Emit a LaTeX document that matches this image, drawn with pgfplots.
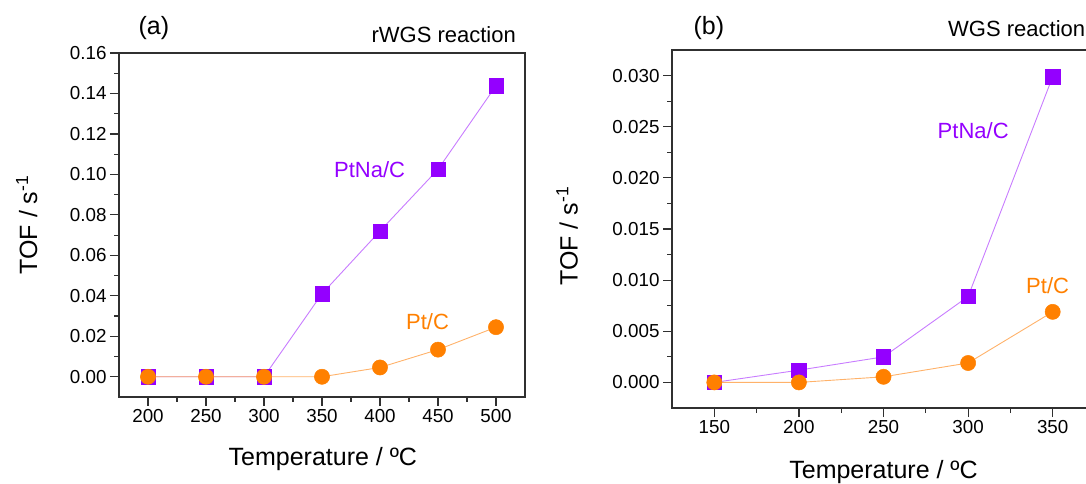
\documentclass[border=0pt]{standalone}
\usepackage{fontspec}
\setmainfont{Liberation Sans}
\usepackage{pgfplots}
\pgfplotsset{compat=1.18}

\definecolor{ptna}{HTML}{9400FF}
\definecolor{ptnaline}{HTML}{C87CFF}
\definecolor{ptc}{HTML}{FF8000}
\definecolor{ptcline}{HTML}{FFB26A}
\definecolor{axisgray}{HTML}{303030}

\newcommand{\tickfont}{\fontsize{18.8}{19}\selectfont}
\newcommand{\labfont}{\fontsize{25}{26}\selectfont}
\newcommand{\annfont}{\fontsize{22}{24}\selectfont}

\pgfplotsset{
  tofpanel/.style={
    scale only axis, anchor=south west,
    axis line style={axisgray, line width=1.4pt},
    every tick/.style={axisgray, line width=1.2pt},
    tick align=outside,
    major tick length=9pt, minor tick length=5pt,
    xtick pos=bottom, ytick pos=left,
    minor x tick num=1, minor y tick num=1,
    scaled y ticks=false,
    tick label style={font=\tickfont},
    /pgf/number format/assume math mode=true,
    label style={font=\labfont},
    xlabel={Temperature / ºC},
    ylabel={TOF / s\textsuperscript{-1}},
    clip=false,
  },
  ptnaplot/.style={draw=ptnaline, line width=0.9pt, mark=square*, mark size=7.2pt,
    mark options={fill=ptna, draw=ptna, line width=0.5pt}},
  ptcplot/.style={draw=ptcline, line width=0.9pt, mark=*, mark size=7.6pt,
    mark options={fill=ptc, draw=ptc, line width=0.5pt}},
}

\begin{document}
\begin{tikzpicture}[x=1pt,y=1pt]
\useasboundingbox (0,0) rectangle (1086,484);

% (a) rWGS
\begin{axis}[tofpanel,
  at={(119pt,87pt)}, width=406pt, height=344pt,
  xmin=175, xmax=525, ymin=-0.01, ymax=0.16,
  xtick={200,250,300,350,400,450,500},
  ytick={0,0.02,0.04,0.06,0.08,0.10,0.12,0.14,0.16},
  yticklabel style={/pgf/number format/fixed, /pgf/number format/fixed zerofill, /pgf/number format/precision=2},
  xlabel style={at={(axis description cs:0.502,-0.18)}, anchor=center},
  ylabel style={at={(axis description cs:-0.227,0.5)}, anchor=center},
]
\addplot[ptnaplot] coordinates {(200,0) (250,0) (300,0) (350,0.041) (400,0.072) (450,0.1025) (500,0.1438)};
\addplot[ptcplot] coordinates {(200,0) (250,0) (300,0) (350,0) (400,0.0046) (450,0.0134) (500,0.0245)};
\node[ptna, font=\annfont] at (axis cs:391,0.1025) {PtNa/C};
\node[ptc, font=\annfont] at (axis cs:441,0.0272) {Pt/C};
\end{axis}

% (b) WGS
\begin{axis}[tofpanel,
  at={(672pt,76pt)}, width=423pt, height=358pt,
  xmin=125, xmax=375, ymin=-0.0025, ymax=0.0325,
  xtick={150,200,250,300,350},
  ytick={0,0.005,0.010,0.015,0.020,0.025,0.030},
  yticklabel style={/pgf/number format/fixed, /pgf/number format/fixed zerofill, /pgf/number format/precision=3},
  xlabel style={at={(axis description cs:0.50,-0.179)}, anchor=center},
  ylabel style={at={(axis description cs:-0.248,0.48)}, anchor=center},
]
\addplot[ptnaplot] coordinates {(150,0) (200,0.0012) (250,0.0025) (300,0.0084) (350,0.0299)};
\addplot[ptcplot] coordinates {(150,0) (200,0) (250,0.00055) (300,0.0019) (350,0.0069)};
\node[ptna, font=\annfont] at (axis cs:303,0.0246) {PtNa/C};
\node[ptc, font=\annfont] at (axis cs:347,0.0095) {Pt/C};
\end{axis}

\node[anchor=base west, font=\labfont] at (135,449) {(a)};
\node[anchor=base east, font=\annfont, inner sep=0pt] at (516,441) {rWGS reaction};
\node[anchor=base west, font=\labfont] at (690,449) {(b)};
\node[anchor=base west, font=\annfont, inner sep=0pt] at (948,447) {WGS reaction};
\end{tikzpicture}
\end{document}
